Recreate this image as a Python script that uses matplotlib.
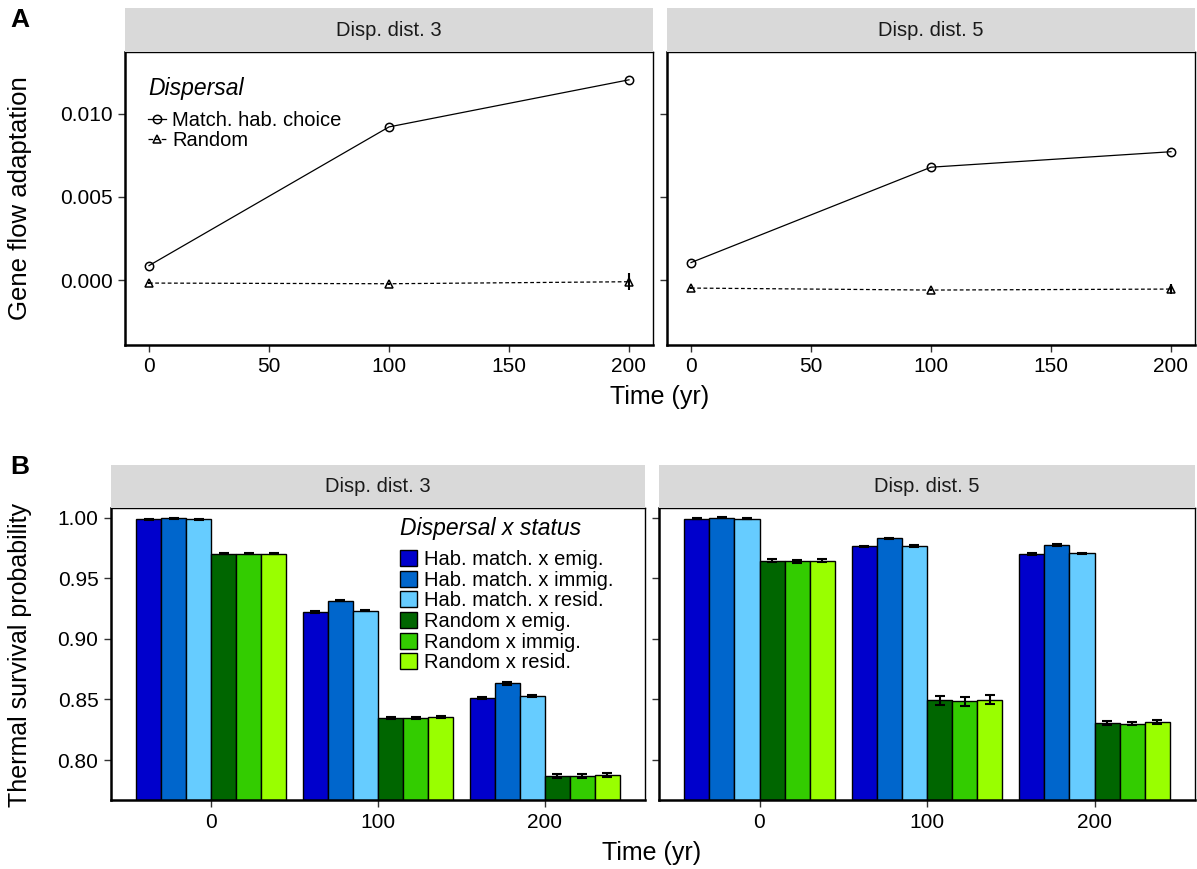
import numpy as np
import matplotlib
matplotlib.use('Agg')
import matplotlib.pyplot as plt
from matplotlib.lines import Line2D
from matplotlib.patches import Patch

plt.rcParams['font.family'] = ['Liberation Sans', 'DejaVu Sans']

# ---- panel A data: gene flow adaptation ----
time_a = [0, 100, 200]
facets = ['Disp. dist. 3', 'Disp. dist. 5']
match_d3 = [0.00087, 0.0092, 0.01203]
random_d3 = [-0.00018, -0.00022, -0.0001]
random_d3_err = [0.00005, 0.00005, 0.00052]
match_d5 = [0.00105, 0.00678, 0.00771]
random_d5 = [-0.00048, -0.0006, -0.00054]
random_d5_err = [0.00005, 0.00005, 0.00028]

# ---- panel B data: thermal survival probability ----
time_b = ['0', '100', '200']
groups = ['Hab. match. x emig.', 'Hab. match. x immig.', 'Hab. match. x resid.',
          'Random x emig.', 'Random x immig.', 'Random x resid.']
colors = ['#0000CC', '#0066CC', '#66CCFF', '#006600', '#33CC00', '#99FF00']
surv_d3 = [
    [0.9986, 0.9222, 0.8514],
    [0.9994, 0.9314, 0.8633],
    [0.9986, 0.9231, 0.8528],
    [0.9703, 0.8347, 0.7867],
    [0.9702, 0.8346, 0.7867],
    [0.9703, 0.8353, 0.7875],
]
err_d3 = [
    [0.0004, 0.0005, 0.0010],
    [0.0004, 0.0005, 0.0010],
    [0.0004, 0.0005, 0.0010],
    [0.0005, 0.0007, 0.0015],
    [0.0005, 0.0007, 0.0015],
    [0.0005, 0.0007, 0.0015],
]
surv_d5 = [
    [0.9992, 0.9764, 0.9700],
    [1.0000, 0.9831, 0.9775],
    [0.9992, 0.9767, 0.9706],
    [0.9644, 0.8492, 0.8306],
    [0.9639, 0.8486, 0.8300],
    [0.9644, 0.8497, 0.8314],
]
err_d5 = [
    [0.0004, 0.0005, 0.0005],
    [0.0004, 0.0005, 0.0005],
    [0.0004, 0.0005, 0.0005],
    [0.0012, 0.0037, 0.0013],
    [0.0012, 0.0037, 0.0013],
    [0.0012, 0.0037, 0.0013],
]

W, H = 1197, 869
fig = plt.figure(figsize=(W / 100, H / 100), dpi=100)


def px_axes(x0, y0, x1, y1):
    return fig.add_axes([x0 / W, 1 - y1 / H, (x1 - x0) / W, (y1 - y0) / H])


def strip(x0, y0, x1, y1, label):
    s = px_axes(x0, y0, x1, y1)
    s.set_facecolor('#D9D9D9')
    s.set_xticks([])
    s.set_yticks([])
    for sp in s.spines.values():
        sp.set_visible(False)
    s.text(0.5, 0.5, label, ha='center', va='center', fontsize=14.5, color='#1A1A1A')


def style(ax):
    for side in ['top', 'right']:
        ax.spines[side].set_linewidth(1.0)
    for side in ['left', 'bottom']:
        ax.spines[side].set_linewidth(1.8)
    ax.tick_params(direction='out', length=5, width=1, color='#333333',
                   labelsize=15, pad=4)


# ---- Panel A ----
a_boxes = [(125, 52, 653, 345), (667, 52, 1195, 345)]
a_data = [(match_d3, random_d3, random_d3_err), (match_d5, random_d5, random_d5_err)]
for i, ((x0, y0, x1, y1), (m, r, re)) in enumerate(zip(a_boxes, a_data)):
    ax = px_axes(x0, y0, x1, y1)
    strip(x0, 8, x1, y0, facets[i])
    ax.plot(time_a, m, '-', color='black', lw=0.9, marker='o', ms=6,
            mfc='none', mec='black', mew=1.1)
    ax.errorbar(time_a, r, yerr=re, fmt='none', ecolor='black', elinewidth=1.5, capsize=0)
    ax.plot(time_a, r, '--', color='black', lw=0.9, marker='^', ms=6,
            mfc='none', mec='black', mew=1.1, dashes=(3, 2))
    ax.set_xlim(-10, 210)
    ax.set_ylim(-0.0039, 0.0137)
    ax.set_xticks([0, 50, 100, 150, 200])
    ax.set_yticks([0.0, 0.005, 0.010])
    if i == 0:
        ax.set_yticklabels(['0.000', '0.005', '0.010'])
        ax.text(0.0436, 0.877, 'Dispersal', transform=ax.transAxes, fontsize=16.5,
                style='italic', ha='left', va='center')
        handles = [Line2D([], [], color='black', lw=0.9, marker='o', ms=6, mfc='none', mew=1.1),
                   Line2D([], [], color='black', lw=0.9, ls='--', marker='^', ms=6, mfc='none', mew=1.1)]
        ax.legend(handles, ['Match. hab. choice', 'Random'], loc='upper left',
                  bbox_to_anchor=(0.0436, 0.80), frameon=False, fontsize=14.5,
                  handlelength=0.9, handletextpad=0.3, labelspacing=0.05,
                  borderpad=0.0, borderaxespad=0.0)
    else:
        ax.set_yticklabels([])
    style(ax)

fig.text(10 / W, 1 - 20 / H, 'A', fontsize=19, fontweight='bold', va='center', ha='left')
fig.text(20 / W, 1 - 198 / H, 'Gene flow adaptation', rotation=90, fontsize=18.5,
         va='center', ha='center')
fig.text(660 / W, 1 - 397 / H, 'Time (yr)', fontsize=18, va='center', ha='center')

# ---- Panel B ----
b_boxes = [(111, 508, 645, 800), (659, 508, 1195, 800)]
b_data = [(surv_d3, err_d3), (surv_d5, err_d5)]
pos = np.arange(1, len(time_b) + 1)
bw = 0.15
for i, ((x0, y0, x1, y1), (vals, errs)) in enumerate(zip(b_boxes, b_data)):
    ax = px_axes(x0, y0, x1, y1)
    strip(x0, 465, x1, y0, facets[i])
    for g in range(len(groups)):
        xs = pos - 0.45 + bw * (g + 0.5)
        ax.bar(xs, vals[g], width=bw, bottom=0, color=colors[g], edgecolor='black',
               linewidth=1.0, label=groups[g], zorder=2)
        ax.errorbar(xs, vals[g], yerr=errs[g], fmt='none', ecolor='black',
                    elinewidth=1.5, capsize=3.5, capthick=1.5, zorder=3)
    ax.set_xlim(0.4, 3.6)
    ax.set_ylim(0.767, 1.008)
    ax.set_xticks(pos)
    ax.set_xticklabels(time_b)
    ax.set_yticks([0.80, 0.85, 0.90, 0.95, 1.00])
    if i == 0:
        ax.set_yticklabels(['0.80', '0.85', '0.90', '0.95', '1.00'])
        ax.text(0.541, 0.9315, 'Dispersal x status', transform=ax.transAxes, fontsize=16.5,
                style='italic', ha='left', va='center')
        handles = [Patch(facecolor=c, edgecolor='black', linewidth=1.0) for c in colors]
        ax.legend(handles, groups, loc='upper left', bbox_to_anchor=(0.541, 0.856),
                  frameon=False, fontsize=14.5,
                  handlelength=0.85, handleheight=0.85, handletextpad=0.35,
                  labelspacing=0.08, borderpad=0.0, borderaxespad=0.0)
    else:
        ax.set_yticklabels([])
    style(ax)

fig.text(10 / W, 1 - 467 / H, 'B', fontsize=19, fontweight='bold', va='center', ha='left')
fig.text(20 / W, 1 - 655 / H, 'Thermal survival probability', rotation=90, fontsize=18,
         va='center', ha='center')
fig.text(652 / W, 1 - 853 / H, 'Time (yr)', fontsize=18, va='center', ha='center')

fig.savefig('out.png', dpi=100)
